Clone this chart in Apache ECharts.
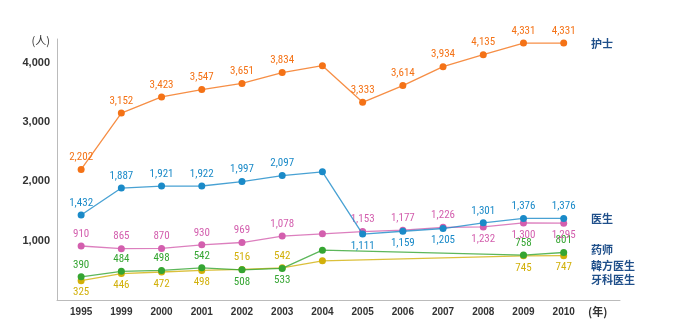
<!DOCTYPE html>
<html>
<head>
<meta charset="utf-8">
<script src="https://cdn.jsdelivr.net/npm/echarts@6/dist/echarts.min.js"></script>
<style>html,body{margin:0;padding:0;background:#fff}#c{width:680px;height:330px}</style>
</head>
<body>
<div id="c"></div>
<script>
var years = ['1995','1999','2000','2001','2002','2003','2004','2005','2006','2007','2008','2009','2010'];
var seriesNames = ['护士','医生','药师','韓方医生','牙科医生'];
var nurse  = [2202,3152,3423,3547,3651,3834,3950,3333,3614,3934,4135,4331,4331];
var doctor = [1432,1887,1921,1922,1997,2097,2160,1111,1159,1205,1301,1376,1376];
var pharm  = [910,865,870,930,969,1078,1115,1153,1177,1226,1232,1300,1295];
var korean = [390,484,498,542,508,533,840,null,null,null,null,758,801];
var dental = [325,446,472,498,516,542,660,null,null,null,null,745,747];
var yTicks = [1000,2000,3000,4000];

var colors = ['#f47216','#1a8ac8','#d35fae','#35a532','#d2b00a'];
var allData = [nurse, doctor, pharm, korean, dental];
// indices whose value label sits below the point; index 6 (2004) has no label
var below = [[], [7,8,9], [10,11,12], [4,5], [0,1,2,3,11,12]];
var noLabel = [6];

var fontNum = '"Liberation Sans Narrow", "Roboto Condensed", sans-serif';

var series = allData.map(function(arr, si){
  return {
    name: seriesNames[si],
    type: 'line',
    connectNulls: true,
    symbol: 'circle',
    symbolSize: 7,
    showAllSymbol: true,
    itemStyle: {color: colors[si]},
    lineStyle: {color: colors[si], width: 1.3, opacity: 0.8},
    z: 10 - si,
    data: arr.map(function(v, i){
      if (v === null) return [i, null];
      var lbl = {
        show: noLabel.indexOf(i) < 0,
        position: below[si].indexOf(i) >= 0 ? 'bottom' : 'top',
        distance: 3,
        color: colors[si],
        fontFamily: fontNum,
        fontSize: 11,
        formatter: function(p){ return p.value[1].toLocaleString('en-US'); }
      };
      return {value: [i, v], label: lbl};
    })
  };
});

var legendPos = [[591,44],[591,219.5],[591,250.5],[591,266],[591,280]];
var graphics = seriesNames.map(function(n, i){
  return {type:'text', left: legendPos[i][0], top: legendPos[i][1]-6,
    style:{text:n, fill:'#1f4f8a', font:'bold 11px "Noto Sans CJK SC", sans-serif'}};
});

var chart = echarts.init(document.getElementById('c'), null, {renderer:'canvas'});
chart.setOption({
  animation: false,
  grid: {left: 57, right: 60, top: 39, bottom: 30},
  xAxis: {
    type: 'value', min: -0.6, max: 13.4,
    splitLine: {show:false},
    axisLine: {show:true, onZero:false, lineStyle:{color:'#bbbbbb', width:1}},
    axisTick: {show:false},
    axisLabel: {
      customValues: years.map(function(y,i){return i;}),
      formatter: function(v){ return years[Math.round(v)]; },
      color:'#333', fontWeight:'bold', fontSize:10, margin:7,
      fontFamily: '"Liberation Sans", sans-serif'
    },
    name: '(年)', nameLocation: 'end', nameGap: -32,
    nameTextStyle: {color:'#333', fontSize:11, fontWeight:'bold', verticalAlign:'top', padding:[6,0,0,0],
      fontFamily:'"Noto Sans CJK SC", sans-serif'}
  },
  yAxis: {
    type: 'value', min: 0, max: 4400,
    splitLine: {show:false},
    axisLine: {show:true, onZero:false, lineStyle:{color:'#bbbbbb', width:1}},
    axisTick: {show:false},
    axisLabel: {
      customValues: yTicks,
      formatter: function(v){ return v.toLocaleString('en-US'); },
      color:'#333', fontWeight:'bold', fontSize:11, margin:7,
      fontFamily: '"Liberation Sans", sans-serif'
    },
    name: '(人)', nameLocation: 'end', nameGap: -2,
    nameTextStyle: {color:'#333', fontSize:11, align:'right', verticalAlign:'middle', padding:[0,7,0,0],
      fontFamily:'"Noto Sans CJK SC", sans-serif'}
  },
  graphic: graphics,
  series: series
});
</script>
</body>
</html>
